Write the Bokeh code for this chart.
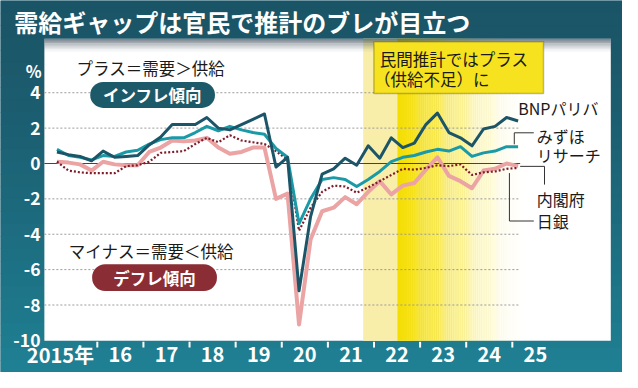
from bokeh.plotting import figure
from bokeh.models import Range1d, Label, BoxAnnotation, ColumnDataSource
from bokeh.embed import file_html
from bokeh.resources import INLINE

# ---------------- data ----------------
quarters = [f"{y}Q{q}" for y in range(2015, 2026) for q in range(1, 5)][:41]

bnp = [0.65, 0.5, 0.4, 0.15, 0.7, 0.35, 0.4, 0.45, 1.05, 1.5,
       2.2, 2.2, 2.2, 2.6, 2.0, 1.9, 2.2, 2.5, 2.8, -0.2,
       0.35, -7.2, -3.0, -0.6, -0.3, 0.3, -0.1, 1.0, 0.3, 1.45,
       0.9, 1.15, 2.2, 2.85, 1.75, 1.45, 1.0, 1.95, 2.1, 2.6, 2.4]
mizuho = [0.8, 0.45, 0.35, 0.2, 0.45, 0.4, 0.65, 0.75, 1.1, 1.35,
          1.45, 1.45, 1.75, 2.1, 1.85, 2.1, 1.9, 1.75, 1.65, 0.85,
          0.35, -3.4, -2.0, -0.9, -0.8, -0.9, -1.3, -0.9, -0.45, 0.1,
          0.35, 0.45, 0.65, 0.8, 0.7, 0.95, 0.4, 0.6, 0.7, 0.95, 0.95]
cao = [0.1, -0.4, -0.5, -0.55, -0.55, -0.55, -0.15, -0.1, 0.1, 0.6,
       0.65, 0.7, 1.1, 1.45, 1.2, 1.6, 1.3, 1.2, 1.1, 0.7,
       0.2, -3.8, -2.5, -1.6, -1.25, -1.3, -1.65, -1.35, -1.0, -0.65,
       -0.3, -0.35, -0.25, -0.1, -0.15, -0.05, -0.65, -0.5, -0.45, -0.3, -0.25]
boj = [0.1, 0.05, -0.05, -0.4, 0.1, -0.05, -0.1, -0.1, 0.65, 0.9,
       1.3, 1.25, 1.3, 1.45, 0.9, 0.55, 0.65, 0.9, 0.9, -2.0,
       -1.7, -9.1, -4.3, -2.7, -2.5, -1.9, -2.3, -1.6, -1.0, -1.75,
       -1.25, -1.1, -0.35, 0.35, -0.7, -1.0, -1.4, -0.4, -0.3, 0.0, -0.15]

y_ticks = [4, 2, 0, -2, -4, -6, -8, -10]
year_labels = ["2015年", "16", "17", "18", "19", "20", "21", "22", "23", "24", "25"]
years = list(range(2015, 2026))

series_names = ["BNPパリバ", "みずほリサーチ", "内閣府", "日銀"]
title_text = "需給ギャップは官民で推計のブレが目立つ"

# ---------------- helpers (reference pixel -> data) ----------------
def tx(X):
    return 2015 + (X - 52) / 47.3

def vy(Y):
    return (170 - Y) / 18.45

FONT = "Noto Sans CJK JP"
t = [int(q[:4]) + (int(q[-1]) - 1) * 0.25 + 0.125 for q in quarters]
src = ColumnDataSource(dict(t=t, bnp=bnp, mizuho=mizuho, cao=cao, boj=boj))

XL, XR = tx(0), tx(638)
YB, YT = vy(388), vy(0)

p = figure(width=622, height=372, x_range=Range1d(XL, XR), y_range=Range1d(YB, YT),
           output_backend="svg", toolbar_location=None,
           x_axis_location=None, y_axis_location=None,
           min_border_left=0, min_border_right=0, min_border_top=0, min_border_bottom=0)
p.background_fill_color = "#1b5e70"
p.border_fill_color = "#1b5e70"
p.outline_line_color = None
p.xgrid.visible = False
p.ygrid.visible = False

# ---------------- background: teal gradient + white panel ----------------
def mix(c1, c2, f):
    a = [int(c1[i:i + 2], 16) for i in (1, 3, 5)]
    b = [int(c2[i:i + 2], 16) for i in (1, 3, 5)]
    return "#" + "".join(f"{round(a[i] + (b[i] - a[i]) * f):02x}" for i in range(3))

nb = 30
bt = [YT - (YT - YB) * k / nb for k in range(nb)]
bb = [YT - (YT - YB) * (k + 1.05) / nb for k in range(nb)]
bc = [mix("#1a5567", "#1f8093", (k / (nb - 1)) ** 1.3) for k in range(nb)]
p.quad(left=[XL] * nb, right=[XR] * nb, top=bt, bottom=bb, fill_color=bc, line_color=None)

PL, PR, PT, PB = tx(45), tx(626), vy(40), vy(355)
p.quad(left=[PL], right=[PR], top=[PT], bottom=[PB], fill_color="white", line_color=None)

# ---------------- shading ----------------
p.quad(left=[tx(372)], right=[tx(407)], top=[PT], bottom=[PB],
       fill_color="#f8eeaa", line_color=None)
n = 60
g0, g1 = tx(407), tx(540)
lefts = [g0 + (g1 - g0) * k / n for k in range(n)]
rights = [g0 + (g1 - g0) * (k + 1.3) / n for k in range(n)]
alphas = [(1 - k / n) ** 1.8 for k in range(n)]
p.quad(left=lefts, right=rights, top=[PT] * n, bottom=[PB] * n,
       fill_color="#f4dd00", fill_alpha=alphas, line_color=None)

# top shadow of the white panel
m = 14
sh_top = [vy(40 + k) for k in range(m)]
sh_bot = [vy(41.2 + k) for k in range(m)]
sh_alpha = [0.6 * (1 - k / m) ** 1.5 for k in range(m)]
p.quad(left=[PL] * m, right=[PR] * m, top=sh_top, bottom=sh_bot,
       fill_color="#3a4a58", fill_alpha=sh_alpha, line_color=None)

# grid lines
grid_y = [v for v in y_ticks if v not in (0, -10)]
p.segment(x0=[PL] * len(grid_y), x1=[tx(533)] * len(grid_y), y0=grid_y, y1=grid_y,
          line_color="#9a9a9a", line_width=1, line_dash="2 2")
p.segment(x0=[PL], x1=[tx(533)], y0=[0], y1=[0], line_color="#444444", line_width=1.2)

# year boundary ticks
bounds = years[1:]
p.segment(x0=bounds, x1=bounds, y0=[vy(356)] * len(bounds), y1=[vy(362)] * len(bounds),
          line_color="white", line_width=2)

# ---------------- series ----------------
p.line("t", "boj", source=src, line_color="#eba3a3", line_width=4, line_join="round")
p.line("t", "cao", source=src, line_color="#7d1c2a", line_width=2.2, line_dash="2 2")
p.line("t", "mizuho", source=src, line_color="#1a9aa7", line_width=3, line_join="round")
p.line("t", "bnp", source=src, line_color="#1b5567", line_width=3, line_join="round")

# leader lines
for pts in ([(527, 150), (527, 138), (547, 138)],
            [(533, 173), (558, 173), (558, 192)],
            [(522, 180), (522, 230), (547, 230)]):
    p.line([tx(a) for a, b in pts], [vy(b) for a, b in pts], line_color="#333333", line_width=1)

# ---------------- annotations ----------------
def label(x, y, text, size, color="#1a1a1a", bold=False, align="left"):
    p.add_layout(Label(x=x, y=y, text=text, text_font=FONT,
                       text_font_size=f"{size}px", text_color=color,
                       text_font_style="bold" if bold else "normal",
                       text_align=align, text_baseline="middle"))

# yellow call-out box
p.add_layout(BoxAnnotation(left=tx(383), right=tx(557), top=vy(43), bottom=vy(97),
                           fill_color="#f6e21e", fill_alpha=1, line_color="#333333",
                           line_width=1.5))
label(tx(389), vy(61), "民間推計ではプラス", 16.5)
label(tx(383), vy(82), "（供給不足）に", 16.5)

# pills
p.add_layout(BoxAnnotation(left=tx(92), right=tx(220), top=vy(85), bottom=vy(112),
                           fill_color="#1c5a69", fill_alpha=1, line_color=None,
                           border_radius=13))
label(tx(156), vy(98.5), "インフレ傾向", 16.5, color="white", bold=True, align="center")
p.add_layout(BoxAnnotation(left=tx(94), right=tx(222), top=vy(275), bottom=vy(303),
                           fill_color="#8a2d34", fill_alpha=1, line_color=None,
                           border_radius=13))
label(tx(158), vy(289), "デフレ傾向", 16.5, color="white", bold=True, align="center")

label(tx(78), vy(70), "プラス＝需要＞供給", 16.5)
label(tx(70), vy(261), "マイナス＝需要＜供給", 16.5)

# series labels
label(tx(531), vy(112), series_names[0], 16)
label(tx(550), vy(141), "みずほ", 16)
label(tx(550), vy(161), "リサーチ", 16)
label(tx(550), vy(207), series_names[2], 16)
label(tx(550), vy(230), series_names[3], 16)

# title, unit, y tick labels, year labels
label(tx(14), vy(22), title_text, 24, color="white", bold=True)
label(tx(34), vy(74), "%", 16.5, color="white", bold=True, align="center")
for v in y_ticks:
    label(tx(41), v, str(v), 17.5, color="white", bold=True, align="right")
for yr, txt in zip(years, year_labels):
    x = tx(61.5) if yr == 2015 else yr + 0.5
    label(x, vy(369), txt, 20, color="white", bold=True, align="center")

open("out.html", "w").write(file_html(p, INLINE))
